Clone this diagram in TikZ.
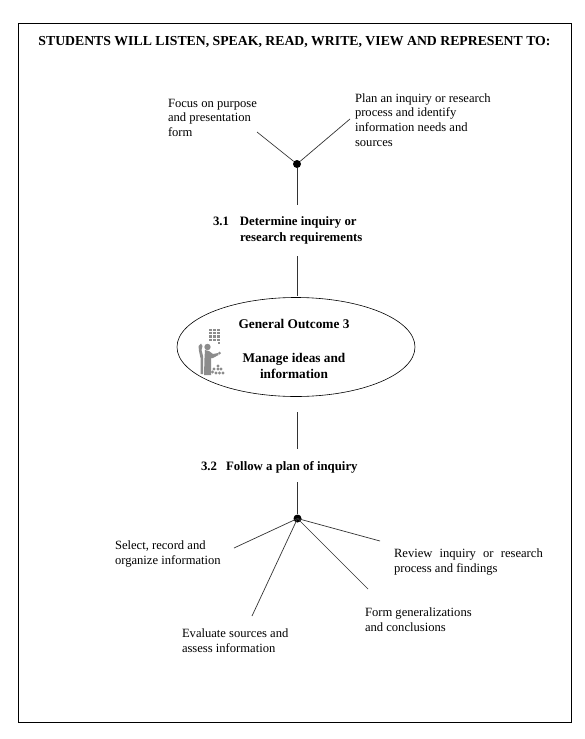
\documentclass[tikz,border=0pt]{standalone}
\usepackage{fontspec}
\usetikzlibrary{shapes.geometric}
\setmainfont{Liberation Serif}
\tikzset{
  lab/.style={inner sep=0pt,outer sep=0pt,anchor=north west,align=left,font=\fontsize{12.6}{14.7}\selectfont},
  blab/.style={inner sep=0pt,outer sep=0pt,align=center,font=\fontsize{13.3}{16}\selectfont\bfseries},
  rlab/.style={inner sep=0pt,outer sep=0pt,anchor=north west,align=left,font=\fontsize{12.8}{16}\selectfont\bfseries},
  conn/.style={draw=black!80,line width=0.7pt},
  hub/.style={circle,fill=black,inner sep=0pt,minimum size=8pt},
  icon/.style={fill=black!45,draw=none}
}
\begin{document}
\begin{tikzpicture}[x=1pt,y=-1pt]
\useasboundingbox (0,0) rectangle (585,739);
\fill[white] (0,0) rectangle (585,739);
\coordinate (fa) at (18,23); \coordinate (fb) at (571,722);
\draw[line width=0.8pt] (fa) rectangle (fb);
\node[inner sep=0pt,font=\fontsize{13.75}{16}\selectfont\bfseries] (title) at (294.5,42) {STUDENTS WILL LISTEN, SPEAK, READ, WRITE, VIEW AND REPRESENT TO:};
% upper
\node[hub] (h1) at (297,164) {};
\node[lab] (t1) at (168,99) {Focus on purpose\\and presentation\\form};
\node[lab] (t2) at (355,93.5) {Plan an inquiry or research\\process and identify\\information needs and\\sources};
\coordinate (c1) at (257,132); \coordinate (c2) at (350,119);
\coordinate (c3) at (297,205);
\draw[conn] (c1) -- (h1); \draw[conn] (c2) -- (h1); \draw[conn] (h1) -- (c3);
\node[rlab] (r1) at (213,216.5) {3.1\hspace{11pt}Determine inquiry or\\\hspace{27pt}research requirements};
\coordinate (c4) at (297,256); \coordinate (c5) at (297,296);
\draw[conn] (c4) -- (c5);
% ellipse
\node[draw,ellipse,line width=0.6pt,minimum width=238pt,minimum height=99pt,inner sep=0pt] (oc) at (296,347) {};
\node[blab] (g1) at (294,324) {General Outcome 3};
\node[blab] (g2) at (294,366) {Manage ideas and\\information};
% icon
\foreach \i in {0,1,2,3} \foreach \j in {0,1,2}
  \fill[icon] (209+\j*4,328.5+\i*3.4) rectangle +(3,2.5);
\fill[icon] (218,342) rectangle +(2,1.6);
% back figure
\fill[icon] (198.5,346) -- (201,343.5) -- (202.5,346) -- (201.5,350) -- (203,356) -- (203,374) -- (200.5,374) -- (200.5,358) -- (199,351) -- cycle;
% front figure
\fill[icon] (205,350) -- (209,351) -- (213,354) -- (218,353) -- (218.5,355) -- (213,358) -- (211,358) -- (211,375) -- (204,375) -- (204.5,358) -- cycle;
\fill[icon] (207.5,347) circle (3.2);
\fill[icon] (219.5,353) circle (1.5);
\foreach \p/\q in {209/373,212.5/372,216/373,219.5/373,223/373,214/369,218/369,221/369,218/366}
  \fill[icon] (\p,\q) circle (1.6);
% lower
\coordinate (c6) at (297,412); \coordinate (c7) at (297,449);
\draw[conn] (c6) -- (c7);
\node[rlab] (r2) at (201,461) {3.2\hspace{9pt}Follow a plan of inquiry};
\node[hub] (h2) at (297.5,518.5) {};
\coordinate (c8) at (297.5,482);
\draw[conn] (c8) -- (h2);
\coordinate (d1) at (234,548); \coordinate (d2) at (252,616); \coordinate (d3) at (368,589); \coordinate (d4) at (380,541);
\foreach \d in {d1,d2,d3,d4} \draw[conn] (h2.center) -- (\d);
\node[lab] (b1) at (115,541) {Select, record and\\organize information};
\node[lab] (b2) at (182,629) {Evaluate sources and\\assess information};
\node[lab] (b3) at (365,608) {Form generalizations\\and conclusions};
\node[lab] (b4) at (394,549) {Review\hspace{4pt} inquiry\hspace{4pt} or\hspace{4pt} research\\process and findings};
\end{tikzpicture}
\end{document}
